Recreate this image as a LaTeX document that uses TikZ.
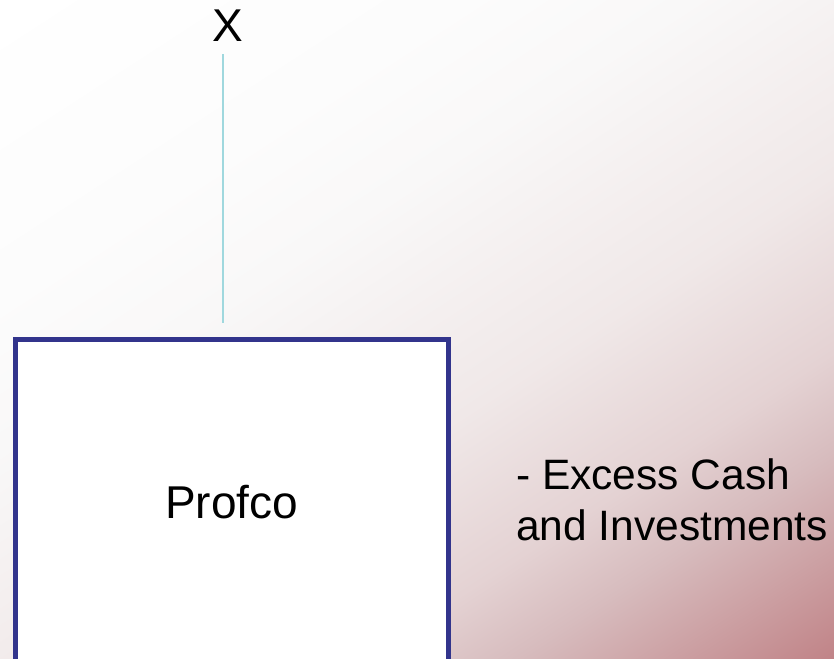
\documentclass[tikz,border=0pt]{standalone}
\usepackage{fontspec}
\setmainfont{Liberation Sans}
\usetikzlibrary{calc}
\definecolor{boxblue}{RGB}{50,52,140}
\definecolor{linecyan}{RGB}{160,216,222}
\definecolor{bga}{RGB}{252,252,252}
\definecolor{bgb}{RGB}{249,248,248}
\definecolor{bgc}{RGB}{240,232,232}
\definecolor{bgd}{RGB}{228,210,211}
\definecolor{bge}{RGB}{215,188,190}
\definecolor{bgf}{RGB}{192,130,134}
\pgfdeclarehorizontalshading{slideback}{100bp}{color(0bp)=(white); color(25bp)=(white); color(37.4bp)=(bga); color(43.7bp)=(bgb); color(54.7bp)=(bgc); color(62.1bp)=(bgd); color(66.2bp)=(bge); color(75bp)=(bgf); color(100bp)=(bgf)}

\begin{document}
\begin{tikzpicture}[x=1pt, y=1pt,
    big text/.style={font=\fontsize{46}{55}\selectfont, inner sep=0pt},
    side text/.style={font=\fontsize{42.5}{51}\selectfont, inner sep=0pt, align=left, anchor=west}]
    \useasboundingbox (0, 0) rectangle (834, 658);
    \clip (0, 0) rectangle (834, 658);
    \begin{scope}[transform canvas={shift={(0, 658)}, rotate=-57}]
        \shade [shading=slideback] (0, -380) rectangle (1010, 720);
    \end{scope}
    \coordinate (p) at (231.5, 156);
    \coordinate (q) at (223, 335);
    \coordinate (x) at (228, 632);
    \coordinate (s) at (516, 158);
    \draw (p) node [draw=boxblue, line width=5pt, fill=white, minimum width=433pt, minimum height=324pt, name=P, big text] {Profco};
    \draw (x) node [name=X, big text] {X};
    \draw [linecyan, line width=2pt, shorten <=12pt] (q |- X.south) -- (q);
    \draw (s) node [name=S, side text] {- Excess Cash\\and Investments};
\end{tikzpicture}
\end{document}
